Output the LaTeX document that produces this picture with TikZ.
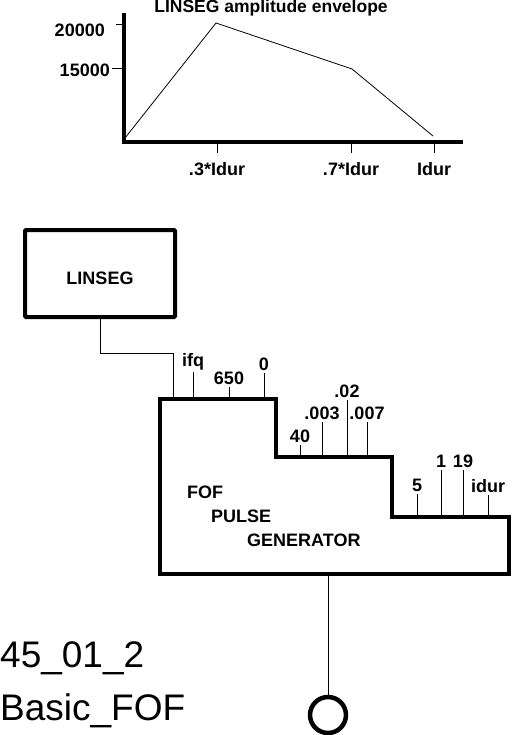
\documentclass[tikz,border=0pt]{standalone}
\usepackage{fontspec}
\setmainfont{Liberation Sans}
\usepackage{xcolor}
\usetikzlibrary{positioning}
\definecolor{csInk}{HTML}{000000}
\tikzset{
  cs diagram/.style={x=1pt, y=-1pt, text=csInk,
    font=\bfseries\fontsize{18}{20}\selectfont},
  cs box/.style={draw=csInk, line width=4pt, rounded corners=1pt,
    inner sep=0pt, align=center},
  cs stairs/.style={draw=csInk, line width=4pt, line join=miter},
  cs wire/.style={draw=csInk, line width=0.9pt},
  cs axis/.style={draw=csInk, line width=3.5pt},
  cs curve/.style={draw=csInk, line width=0.8pt},
  cs input/.style={anchor=south, inner sep=2pt},
  cs text/.style={anchor=west, inner sep=0pt},
  cs tag/.style={anchor=base west, inner sep=0pt,
    font=\fontsize{37}{40}\selectfont},
  cs port/.style={circle, draw=csInk, line width=4.5pt, minimum size=36pt,
    inner sep=0pt}
}
\begin{document}
\begin{tikzpicture}[cs diagram]
\useasboundingbox (0,0) rectangle (512,735);
% amplitude envelope
\node[anchor=base, inner sep=0pt,
  font=\bfseries\fontsize{17.5}{20}\selectfont] (title) at (271,13) {LINSEG amplitude envelope};
\draw[cs axis] (124,13) -- (124,142) -- (463,142);
\draw[cs wire] (116,24) -- (124,24);
\draw[cs wire] (112,68) -- (124,68);
\node[anchor=east, inner sep=0pt] (y20) at (105,30.5) {20000};
\node[anchor=east, inner sep=0pt] (y15) at (110,70.5) {15000};
\foreach \x/\txt [count=\i] in {217/.3*Idur, 351/.7*Idur, 434/Idur} {
  \draw[cs wire] (\x,143) -- (\x,153);
  \node[inner sep=0pt] (t\i) at (\x,169) {\txt};
}
\draw[cs curve] (125,138) -- (216,23) -- (352,69) -- (433,136);
% opcodes
\node[cs box, minimum width=150pt, minimum height=87pt,
  text height=21pt, text depth=0pt] (linseg) at (100,273.5) {LINSEG};
\draw[cs stairs] (160,399) -- (276,399) -- (276,457) -- (392,457)
  -- (392,517) -- (509,517) -- (509,574) -- (160,574) -- cycle;
\node[cs text] (fof1) at (187,492) {FOF};
\node[cs text] (fof2) at (211,516) {PULSE};
\node[cs text] (fof3) at (247,540) {GENERATOR};
\coordinate (amp in) at (173,399);
\draw[cs wire] (linseg.south) -- ++(0,34) -| (amp in);
\foreach \x/\y/\top/\txt [count=\i] in {193/399/372/ifq, 229/399/387/650,
    264/399/373/0, 300/457/445/40, 322/457/422/.003, 347/457/400/.02,
    367/457/422/.007, 417/517/494/5, 441/517/470/1, 463/517/470/19,
    488/517/495/idur} {
  \coordinate (in\i) at (\x,\y);
  \node[cs input] (arg\i) at (\x,\top) {\txt};
  \draw[cs wire] (in\i) -- (arg\i.south);
}
\coordinate (fof out) at (328,574);
\node[cs port] (out) at (328,715) {};
\draw[cs wire] (fof out) -- (out.north);
\node[cs tag] (num) at (0,667) {45\_01\_2};
\node[cs tag] (name) at (0,720) {Basic\_FOF};
\end{tikzpicture}
\end{document}
